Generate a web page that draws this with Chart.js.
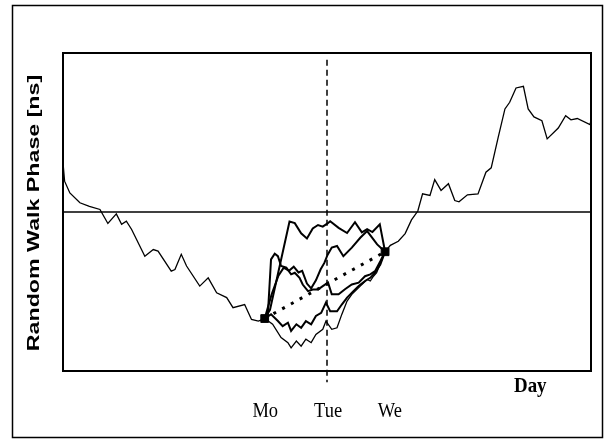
<!DOCTYPE html>
<html>
<head>
<meta charset="utf-8">
<script src="https://cdn.jsdelivr.net/npm/chart.js"></script>
<title>Random Walk Phase</title>
<style>
  body { margin: 0; background: #fff; }
  canvas { display: block; }
</style>
</head>
<body>
<canvas id="walkChart" width="610" height="439"></canvas>

<script>
// main phase record, x in % of the time span, y in arbitrary ns units (0 = reference line)
// left part up to the Monday fix, right part from the Wednesday fix
var mainLeftX = [0, 0.3, 1.3, 3.2, 5.0, 7.0, 8.5, 10.1, 11.1, 12.0, 13.0, 15.5, 17.1, 18.0, 20.5, 21.2, 22.4, 23.4, 25.9, 27.5, 29.1, 31.0, 32.2, 34.4, 35.7, 37.0, 38.2];
var mainLeftY = [15.5, 9.7, 6.0, 2.9, 1.8, 0.8, -3.6, -0.6, -3.9, -2.9, -5.5, -13.9, -11.8, -12.3, -18.6, -18.1, -13.3, -17.0, -23.3, -20.7, -25.4, -26.9, -30.1, -29.1, -33.8, -34.3, -33.5];
var mainRightX = [61.0, 62.0, 63.5, 64.8, 66.0, 67.2, 68.1, 69.5, 70.4, 71.6, 73.0, 74.2, 75.0, 76.6, 78.6, 80.1, 81.1, 82.4, 83.7, 84.6, 85.8, 87.2, 88.1, 89.2, 90.7, 91.7, 93.8, 95.2, 96.2, 97.4, 99.8, 100.4];
var mainRightY = [-12.5, -10.5, -9.2, -6.8, -2.5, 0.3, 5.7, 5.2, 10.2, 6.8, 8.9, 3.6, 3.2, 5.4, 5.7, 12.5, 13.9, 23.3, 32.4, 34.5, 39.0, 39.5, 32.4, 29.9, 28.7, 23.0, 26.4, 30.3, 29.0, 29.4, 27.5, 31.2];

// simulated walks between the Monday and Wednesday fixes
var walkAX = [38.2, 39.2, 42.9, 43.9, 45.1, 46.2, 47.3, 48.3, 49.2, 50.1, 50.6, 52.2, 53.8, 55.3, 56.6, 57.6, 58.6, 60.0, 61.0];
var walkAY = [-33.5, -30.8, -3.0, -3.5, -6.7, -8.3, -5.2, -4.1, -4.6, -3.6, -2.9, -5.0, -6.6, -3.2, -6.4, -5.4, -6.3, -3.9, -12.5];
var walkBX = [38.2, 38.8, 39.4, 40.1, 40.7, 41.3, 42.3, 43.2, 43.9, 44.8, 45.4, 46.4, 47.3, 48.3, 49.2, 50.2, 50.9, 52.2, 53.4, 54.7, 56.0, 57.2, 58.2, 59.1, 60.1, 61.0];
var walkBY = [-33.5, -32.2, -14.9, -13.1, -13.9, -17.0, -17.5, -19.6, -19.1, -20.7, -22.8, -24.9, -24.4, -24.4, -23.3, -22.2, -25.9, -25.9, -24.3, -22.8, -22.2, -20.2, -19.6, -18.6, -15.5, -12.5];
var walkCX = [38.2, 39.5, 40.8, 41.8, 42.8, 43.7, 44.6, 45.3, 46.2, 47.0, 47.9, 48.8, 49.5, 50.1, 50.9, 51.9, 53.1, 54.7, 56.3, 57.6, 59.5, 61.0];
var walkCY = [-33.5, -26.0, -20.0, -17.5, -18.5, -17.2, -19.0, -18.5, -22.5, -24.0, -21.5, -18.0, -16.0, -13.5, -11.2, -10.7, -13.9, -11.2, -8.1, -6.0, -10.2, -12.5];
var walkDX = [38.2, 39.4, 40.7, 41.6, 42.6, 43.2, 44.2, 45.1, 46.0, 47.0, 47.9, 48.9, 49.8, 50.6, 51.9, 52.8, 53.8, 55.0, 56.0, 57.2, 58.2, 59.1, 60.1, 61.0];
var walkDY = [-33.5, -32.2, -34.3, -35.9, -34.8, -37.4, -35.3, -36.4, -34.3, -35.3, -32.7, -31.7, -28.5, -31.2, -31.2, -29.1, -26.9, -24.9, -23.3, -21.7, -20.7, -19.1, -16.5, -12.5];
var walkEX = [38.2, 39.7, 41.3, 42.6, 43.2, 44.2, 45.1, 46.0, 47.0, 47.9, 49.2, 49.8, 50.9, 51.9, 52.8, 53.8, 54.7, 56.3, 57.6, 58.2, 58.8, 59.4, 61.0];
var walkEY = [-33.5, -35.3, -39.5, -41.1, -42.7, -40.6, -42.2, -40.0, -41.1, -38.5, -36.9, -34.3, -36.9, -36.4, -32.2, -28.0, -25.9, -23.3, -21.2, -21.7, -20.2, -19.1, -12.5];

// fixes (Mo / We) and day markers
var fixX = [38.2, 61.0];
var fixY = [-33.5, -12.5];
var dayPos = [38.3, 50.2, 61.9];
var dayLabels = ['Mo', 'Tue', 'We'];
var tuePos = 50;
var yTitle = 'Random Walk Phase [ns]';
var xTitle = 'Day';

function pts(xs, ys) {
    var out = [];
    for (var i = 0; i < xs.length; i++) out.push({x: xs[i], y: ys[i]});
    return out;
}

function walk(xs, ys, w) {
    return {data: pts(xs, ys), borderColor: '#000', borderWidth: w, pointRadius: 0, tension: 0};
}

var framePlugin = {
    id: 'frame',
    afterDatasetsDraw: function(chart) {
        var ctx = chart.ctx, a = chart.chartArea;
        ctx.save();
        ctx.strokeStyle = '#000';
        ctx.lineWidth = 2;
        ctx.strokeRect(a.left, a.top, a.right - a.left, a.bottom - a.top);
        ctx.lineWidth = 1.5;
        ctx.strokeRect(12.5, 5.5, 590, 432);
        ctx.restore();
    },
    afterDraw: function(chart) {
        var ctx = chart.ctx, a = chart.chartArea;
        var xs = chart.scales.x;
        ctx.save();
        ctx.fillStyle = '#000';

        // y title, stretched along its reading direction like the scan
        ctx.save();
        ctx.translate(38.5, (a.top + a.bottom) / 2 + 1);
        ctx.rotate(-Math.PI / 2);
        ctx.scale(1.45, 1);
        ctx.font = 'bold 16px "Liberation Sans", Arial, sans-serif';
        ctx.textAlign = 'center';
        ctx.textBaseline = 'alphabetic';
        ctx.fillText(yTitle, 0, 0);
        ctx.restore();

        // day labels, condensed serif
        for (var i = 0; i < dayLabels.length; i++) {
            ctx.save();
            ctx.translate(xs.getPixelForValue(dayPos[i]), a.bottom + 46);
            ctx.scale(0.84, 1);
            ctx.font = '22px "Liberation Serif", "Times New Roman", serif';
            ctx.textAlign = 'center';
            ctx.textBaseline = 'alphabetic';
            ctx.fillText(dayLabels[i], 0, 0);
            ctx.restore();
        }

        ctx.save();
        ctx.translate(xs.getPixelForValue(88.5), a.bottom + 21);
        ctx.scale(0.9, 1);
        ctx.font = 'bold 21px "Liberation Serif", "Times New Roman", serif';
        ctx.textAlign = 'center';
        ctx.textBaseline = 'alphabetic';
        ctx.fillText(xTitle, 0, 0);
        ctx.restore();
        ctx.restore();
    }
};

new Chart(document.getElementById('walkChart'), {
    type: 'line',
    data: {
        datasets: [
            {data: pts([0, 100], [0, 0]), borderColor: '#000', borderWidth: 1.3, pointRadius: 0},
            {data: pts([tuePos, tuePos], [47.9, -53.5]), borderColor: '#000', borderWidth: 1.5,
             borderDash: [6, 4], pointRadius: 0, clip: false},
            walk(mainLeftX, mainLeftY, 1.3),
            walk(mainRightX, mainRightY, 1.3),
            walk(walkAX, walkAY, 2),
            walk(walkBX, walkBY, 2),
            walk(walkCX, walkCY, 2),
            walk(walkDX, walkDY, 2),
            walk(walkEX, walkEY, 1.3),
            {data: pts(fixX, fixY), borderColor: '#000', borderWidth: 3, borderDash: [3, 7],
             borderCapStyle: 'butt', pointRadius: 0},
            {data: pts(fixX, fixY), showLine: false, pointStyle: 'rect', pointRadius: 5.5,
             pointBackgroundColor: '#000', pointBorderColor: '#000', pointBorderWidth: 1,
             borderColor: 'rgba(0,0,0,0)'}
        ]
    },
    options: {
        responsive: false,
        animation: false,
        devicePixelRatio: 1,
        layout: {padding: {left: 63, top: 53, right: 19, bottom: 68}},
        plugins: {legend: {display: false}, tooltip: {enabled: false}},
        scales: {
            x: {type: 'linear', min: 0, max: 100, display: false},
            y: {type: 'linear', min: -50, max: 50, display: false}
        }
    },
    plugins: [framePlugin]
});
</script>
</body>
</html>
